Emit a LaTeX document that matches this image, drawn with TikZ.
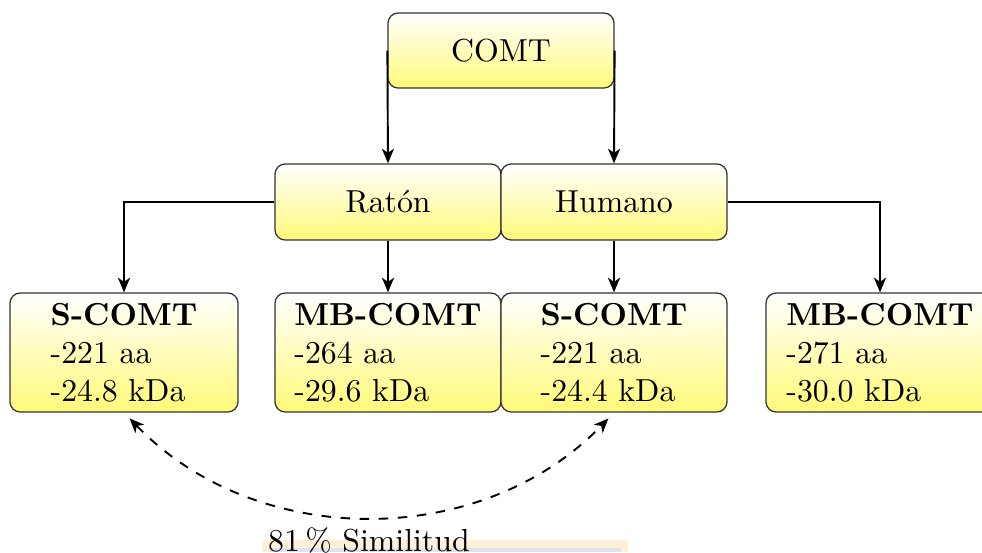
\documentclass[tikz,border=0pt]{standalone}
\usepackage{fontspec}
\usetikzlibrary{arrows.meta,positioning}
\definecolor{boxyellow}{RGB}{255,250,120}
\definecolor{bandorange}{RGB}{253,240,217}
\definecolor{bandblue}{RGB}{222,228,238}
\tikzset{
  box/.style={draw=black!80, rounded corners=3.2pt, top color=white, bottom color=boxyellow,
    minimum width=71.03pt, minimum height=23.6pt, inner sep=2pt, font=\normalsize},
  infobox/.style={box, minimum width=71.66pt, minimum height=37.4pt, align=left, inner sep=1pt},
  conn/.style={semithick, -{Stealth[length=4.6pt,width=3.8pt,inset=1.3pt]}},
  simlink/.style={semithick, dashed, {Stealth[length=4.6pt,width=3.8pt,inset=1.3pt]}-{Stealth[length=4.6pt,width=3.8pt,inset=1.3pt]}}
}
\begin{document}
\begin{tikzpicture}[x=0.3143pt,y=-0.3143pt]
\useasboundingbox (0,0) rectangle (982,552);
% faint band at the bottom
\fill[bandorange] (262,540) rectangle (628,552);
\fill[bandblue] (270,548) rectangle (621,552);

\node[box] (comt) at (501,50.5) {COMT};
\node[box, minimum height=23.9pt] (raton) at (388,202) {Ratón};
\node[box, minimum height=23.9pt] (humano) at (614,202) {Humano};

\node[infobox] (s1) at (124,352.5) {\textbf{S-COMT}\\-221 aa\\-24.8 kDa};
\node[infobox, minimum width=71.03pt] (mb1) at (388,352.5) {\textbf{MB-COMT}\\-264 aa\\-29.6 kDa};
\node[infobox, minimum width=71.03pt] (s2) at (614,352.5) {\textbf{S-COMT}\\-221 aa\\-24.4 kDa};
\node[infobox] (mb2) at (880,352.5) {\textbf{MB-COMT}\\-271 aa\\-30.0 kDa};

\draw[conn] (comt.west) -- (raton.north);
\draw[conn] (comt.east) -- (humano.north);
\draw[conn] (raton.west) -| (s1.north);
\draw[conn] (raton.south) -- (mb1.north);
\draw[conn] (humano.south) -- (s2.north);
\draw[conn] (humano.east) -| (mb2.north);

\draw[simlink, shorten <=2.5pt, shorten >=2.5pt] (s1.south) to[bend right=46]
  node[below] (sim) {81\,\% Similitud} (s2.south);
\end{tikzpicture}
\end{document}
